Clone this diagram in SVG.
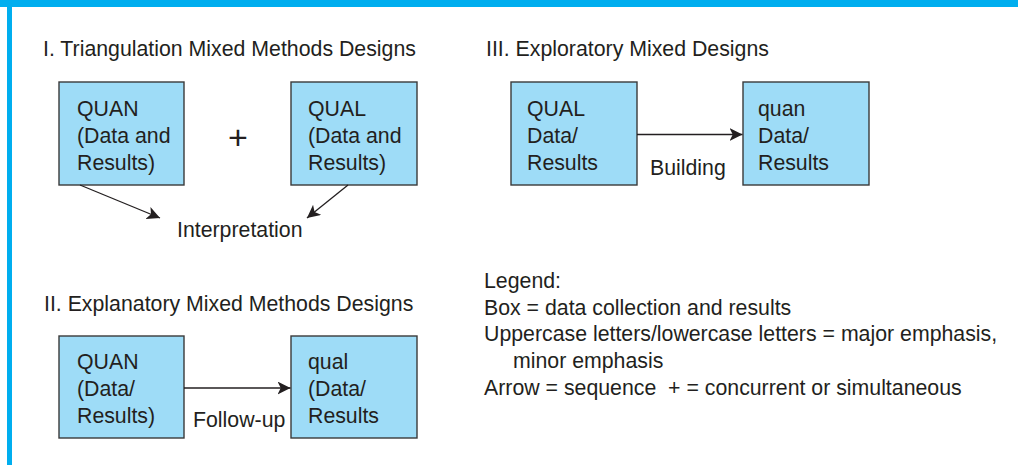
<svg xmlns="http://www.w3.org/2000/svg" width="1018" height="465" viewBox="0 0 1018 465">
<defs>
<style>
text{font-family:"Liberation Sans",Arial,Helvetica,sans-serif;font-size:21.3px;fill:#231f20}
.box{fill:#9edcf7;stroke:#3a3a3a;stroke-width:1.4}
.conn{stroke:#231f20;stroke-width:1.3;fill:none;marker-end:url(#ah)}
</style>
<marker id="ah" viewBox="0 0 10 10" refX="10" refY="5" markerWidth="13" markerHeight="13" markerUnits="userSpaceOnUse" orient="auto">
<path d="M0,0 L10,5 L0,10 L2.5,5 z" fill="#231f20"/>
</marker>
</defs>
<rect x="0" y="0" width="1018" height="465" fill="#ffffff"/>
<rect x="0" y="0" width="1018" height="7" fill="#00aeef"/>
<rect x="7" y="0" width="5" height="465" fill="#00aeef"/>

<g id="titles">
<text x="43" y="56">I. Triangulation Mixed Methods Designs</text>
<text x="486" y="56">III. Exploratory Mixed Designs</text>
<text x="44" y="311">II. Explanatory Mixed Methods Designs</text>
</g>

<g id="tri-quan">
<rect class="box" x="59" y="82" width="125" height="103"/>
<text x="77" y="116">QUAN</text>
<text x="77" y="143">(Data and</text>
<text x="77" y="170">Results)</text>
</g>
<g id="tri-plus"><text x="238" y="149" text-anchor="middle" style="font-size:34px">+</text></g>
<g id="tri-qual">
<rect class="box" x="291" y="82" width="126" height="103"/>
<text x="308" y="116">QUAL</text>
<text x="308" y="143">(Data and</text>
<text x="308" y="170">Results)</text>
</g>
<g id="interpretation"><text x="177" y="237">Interpretation</text></g>

<g id="exp-qual">
<rect class="box" x="511" y="82" width="126" height="103"/>
<text x="527" y="116">QUAL</text>
<text x="527" y="143">Data/</text>
<text x="527" y="170">Results</text>
</g>
<g id="exp-quan">
<rect class="box" x="743" y="82" width="126" height="103"/>
<text x="758" y="116">quan</text>
<text x="758" y="143">Data/</text>
<text x="758" y="170">Results</text>
</g>

<g id="expl-quan">
<rect class="box" x="59" y="336" width="125" height="102"/>
<text x="77" y="369">QUAN</text>
<text x="77" y="396">(Data/</text>
<text x="77" y="423">Results)</text>
</g>
<g id="expl-qual">
<rect class="box" x="291" y="336" width="126" height="102"/>
<text x="308" y="369">qual</text>
<text x="308" y="396">(Data/</text>
<text x="308" y="423">Results</text>
</g>

<g id="connectors">
<line class="conn" x1="80" y1="185" x2="160" y2="218"/>
<line class="conn" x1="348" y1="185" x2="307" y2="218"/>
<line class="conn" x1="637" y1="134.5" x2="742.5" y2="134.5"/>
<text x="650" y="175">Building</text>
<line class="conn" x1="184" y1="388" x2="290.5" y2="388"/>
<text x="193" y="427">Follow-up</text>
</g>

<g id="legend">
<text x="484" y="288">Legend:</text>
<text x="484" y="314.5">Box = data collection and results</text>
<text x="484" y="341">Uppercase letters/lowercase letters = major emphasis,</text>
<text x="513" y="368">minor emphasis</text>
<text x="484" y="394.5" xml:space="preserve">Arrow = sequence  + = concurrent or simultaneous</text>
</g>
</svg>
